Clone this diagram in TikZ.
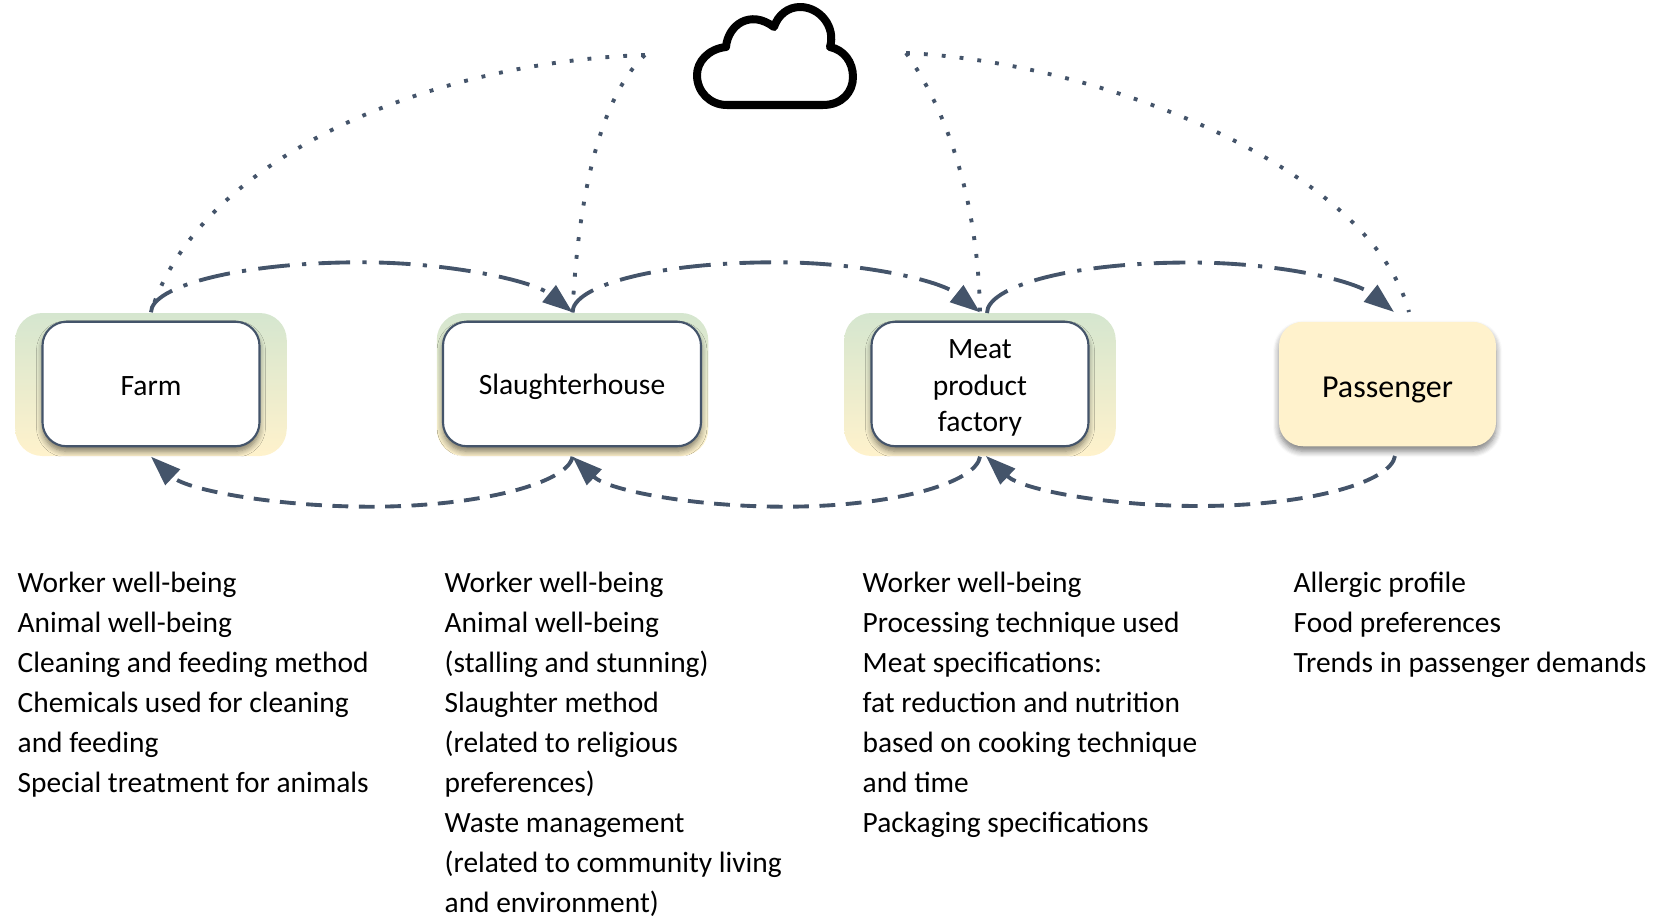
\documentclass[tikz,border=0pt]{standalone}
\usepackage{fontspec}
\setmainfont{Carlito}
\usepackage{tikz}
\usetikzlibrary{calc,arrows.meta,shadows.blur}
\definecolor{linkblue}{HTML}{44546A}
\definecolor{backgreen}{HTML}{D5E6CF}
\definecolor{backyellow}{HTML}{FFF2CC}
\def\linkover[#1](#2)(#3){\draw[#1] (#2) .. controls +(0,0.26) and +(-1.22,0) .. ($(#2)!0.5!(#3)+(0,0.5)$) .. controls +(0.85,0) and ($(#3)+(-0.4,0.32)$) .. (#3);}
\def\linkunder[#1](#2)(#3){\draw[#1] (#2) .. controls +(-0.04,-0.26) and +(1.1,0) .. ($(#2)!0.48!(#3)+(0,-0.5)$) .. controls +(-0.9,0) and ($(#3)+(0.36,-0.34)$) .. (#3);}
\tikzset{
	backbox/.style={rounded corners=0.27cm, minimum height=1.43cm, top color=backgreen, bottom color=backyellow},
	stagebox/.style={draw=linkblue, line width=0.6pt, fill=white, rounded corners=0.24cm, minimum height=1.245cm, align=center, inner sep=0pt, font=\fontsize{8.4}{10.3}\selectfont, blur shadow={shadow xshift=0cm, shadow yshift=-0.05cm, shadow blur steps=6, shadow blur radius=0.6mm, shadow opacity=50}},
	listtext/.style={anchor=north west, align=left, inner sep=0pt, font=\fontsize{8.37}{11.38}\selectfont},
	datalink/.style={draw=linkblue, line width=1.1pt, dash pattern=on 1.1pt off 4pt},
	infolink/.style={draw=linkblue, line width=1.1pt, dash pattern=on 9pt off 3.5pt on 1.2pt off 3.5pt, -{Stealth[length=0.3cm,width=0.21cm,inset=0pt]}},
	backlink/.style={draw=linkblue, line width=1.1pt, dash pattern=on 4.5pt off 3pt, -{Stealth[length=0.3cm,width=0.21cm,inset=0pt]}},
}

\begin{document}
\begin{tikzpicture}
	\useasboundingbox (0, 0) rectangle (16.7, 9.17);
	%%%%% boxes %%%%%
	\node[backbox, minimum width=2.715cm] (farmback) at (1.51, 5.325) {};
	\node[backbox, minimum width=2.715cm] (slaughterback) at (5.725, 5.325) {};
	\node[backbox, minimum width=2.715cm] (meatback) at (9.80, 5.325) {};
	\node[stagebox, minimum width=2.17cm] (farm) at (1.51, 5.33) {\rule{0pt}{6.5pt}Farm};
	\node[stagebox, minimum width=2.58cm] (slaughter) at (5.72, 5.33) {\rule{0pt}{7.4pt}Slaughterhouse};
	\node[stagebox, minimum width=2.17cm] (meat) at (9.80, 5.33) {\rule{0pt}{7.7pt}Meat\\product\\factory};
	\node[stagebox, draw=none, fill=backyellow, minimum width=2.17cm, font=\fontsize{9.1}{11}\selectfont] (passenger) at (13.875, 5.33) {\rule{0pt}{9.2pt}Passenger};
	%%%%% cloud %%%%%
	\draw[line width=0.08cm, line join=round, fill=white] (7.27, 8.12) -- (8.23, 8.12)
		.. controls (8.42, 8.12) and (8.53, 8.25) .. (8.53, 8.40)
		.. controls (8.53, 8.55) and (8.44, 8.67) .. (8.30, 8.70)
		.. controls (8.36, 8.90) and (8.20, 9.10) .. (8.00, 9.10)
		.. controls (7.88, 9.10) and (7.78, 9.02) .. (7.74, 8.90)
		.. controls (7.50, 9.08) and (7.28, 8.92) .. (7.26, 8.70)
		.. controls (7.08, 8.68) and (6.97, 8.55) .. (6.97, 8.42)
		.. controls (6.97, 8.25) and (7.10, 8.12) .. (7.27, 8.12) -- cycle;
	\coordinate (cloudleft) at (6.45, 8.62);
	\coordinate (cloudright) at (9.06, 8.64);
	\coordinate (meatout) at (9.87, 6.04);
	\coordinate (meatin) at (9.86, 4.61);
	\coordinate (passengertop) at (13.94, 6.05);
	\coordinate (passengerdot) at (14.09, 6.05);
	\coordinate (passengerlow) at (13.95, 4.61);
	%%%%% links %%%%%
	\draw[datalink] (cloudleft) .. controls (4.3, 8.55) and (2.0, 7.6) .. (farmback.north);
	\draw[datalink] (cloudleft) .. controls (6.0, 8.2) and (5.78, 7.2) .. (slaughterback.north);
	\draw[datalink] (cloudright) .. controls (9.45, 8.1) and (9.78, 7.2) .. (meatback.north);
	\draw[datalink] (cloudright) .. controls (11.0, 8.55) and (13.7, 7.5) .. (passengerdot);
	\linkover[infolink](farmback.north)(slaughterback.north);
	\linkover[infolink](slaughterback.north)(meatback.north);
	\linkover[infolink](meatout)(passengertop);
	\linkunder[backlink](slaughterback.south)(farmback.south);
	\linkunder[backlink](meatback.south)(slaughterback.south);
	\linkunder[backlink](passengerlow)(meatin);
	%%%%% lists %%%%%
	\node[listtext] (farmlist) at (0.17, 3.455) {Worker well-being\\Animal well-being\\Cleaning and feeding method\\Chemicals used for cleaning\\and feeding\\Special treatment for animals};
	\node[listtext] (slaughterlist) at (4.44, 3.455) {Worker well-being\\Animal well-being\\(stalling and stunning)\\Slaughter method\\(related to religious\\preferences)\\Waste management\\(related to community living\\and environment)};
	\node[listtext] (meatlist) at (8.62, 3.455) {Worker well-being\\Processing technique used\\Meat specifications:\\fat reduction and nutrition\\based on cooking technique\\and time\\Packaging specifications};
	\node[listtext] (passengerlist) at (12.93, 3.455) {Allergic profile\\Food preferences\\Trends in passenger demands};
\end{tikzpicture}
\end{document}
